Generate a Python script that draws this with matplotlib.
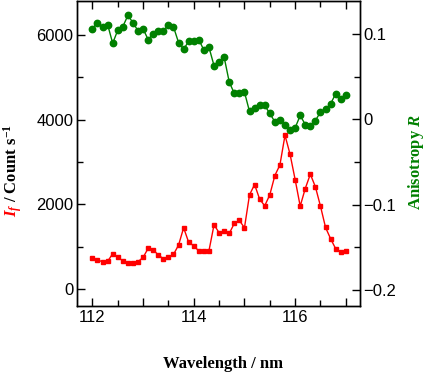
import matplotlib
matplotlib.use("Agg")
import matplotlib.pyplot as plt
from matplotlib.ticker import MultipleLocator, FuncFormatter

# wavelength grid (nm) and the two measured series
wavelength = [112.0, 112.1, 112.2, 112.3, 112.4, 112.5, 112.6, 112.7, 112.8, 112.9,
              113.0, 113.1, 113.2, 113.3, 113.4, 113.5, 113.6, 113.7, 113.8, 113.9,
              114.0, 114.1, 114.2, 114.3, 114.4, 114.5, 114.6, 114.7, 114.8, 114.9,
              115.0, 115.1, 115.2, 115.3, 115.4, 115.5, 115.6, 115.7, 115.8, 115.9,
              116.0, 116.1, 116.2, 116.3, 116.4, 116.5, 116.6, 116.7, 116.8, 116.9,
              117.0]
intensity = [737, 690, 651, 659, 839, 753, 675, 612, 612, 651,
             753, 965, 933, 808, 722, 753, 823, 1043, 1451, 1106,
             1027, 902, 894, 910, 1522, 1333, 1365, 1318, 1553, 1624,
             1451, 2227, 2471, 2125, 1969, 2227, 2682, 2933, 3631, 3184,
             2588, 1961, 2376, 2714, 2416, 1961, 1459, 1192, 957, 871,
             902]
anisotropy = [0.1067, 0.1137, 0.1082, 0.1114, 0.0894, 0.1047, 0.1090, 0.1220, 0.1137, 0.1039,
              0.1063, 0.0937, 0.1008, 0.1035, 0.1043, 0.1106, 0.1086, 0.0902, 0.0824, 0.0918,
              0.0925, 0.0937, 0.0812, 0.0847, 0.0631, 0.0671, 0.0729, 0.0439, 0.0306, 0.0314,
              0.0322, 0.0094, 0.0137, 0.0165, 0.0165, 0.0071, -0.0027, -0.0008, -0.0059, -0.0122,
              -0.0098, 0.0047, -0.0059, -0.0075, -0.0012, 0.0086, 0.0118, 0.0184, 0.0302, 0.0235,
              0.0290]

RED = "#ff0000"
GREEN = "#008000"

plt.rcParams["font.family"] = "Liberation Sans"
plt.rcParams["mathtext.fontset"] = "custom"
plt.rcParams["mathtext.rm"] = "Liberation Serif:bold"
plt.rcParams["mathtext.bf"] = "Liberation Serif:bold"
plt.rcParams["mathtext.it"] = "Liberation Serif:bold:italic"
plt.rcParams["axes.unicode_minus"] = True

W, H = 426, 374
fig = plt.figure(figsize=(W / 100, H / 100), dpi=100)
ax = fig.add_axes([76.7 / W, 1 - 305.7 / H, (360 - 76.7) / W, 305.7 / H - 0.0015])
ax2 = ax.twinx()

ax.plot(wavelength, intensity, color=RED, lw=1.0, marker="s", ms=2.7, mec=RED, mfc=RED)
ax2.plot(wavelength, anisotropy, color=GREEN, lw=1.0, marker="o", ms=4.6, mec=GREEN, mfc=GREEN)

ax.set_xlim(111.69, 117.28)
ax.set_ylim(-386, 6807)
ax2.set_ylim(-0.2184, 0.1395)

ax.xaxis.set_major_locator(MultipleLocator(1))
ax.xaxis.set_minor_locator(MultipleLocator(0.5))
ax.xaxis.set_major_formatter(FuncFormatter(lambda v, p: f"{v:.0f}" if round(v) % 2 == 0 else ""))
ax.yaxis.set_major_locator(MultipleLocator(2000))
ax.yaxis.set_minor_locator(MultipleLocator(1000))
ax2.yaxis.set_major_locator(MultipleLocator(0.1))
ax2.yaxis.set_minor_locator(MultipleLocator(0.05))
ax2.yaxis.set_major_formatter(FuncFormatter(lambda v, p: "0" if abs(v) < 1e-9 else f"{v:.1f}".replace("-", "\u2212")))

ax.tick_params(axis="x", which="both", direction="in", top=True, labelsize=12, pad=3)
ax.tick_params(axis="y", which="both", direction="in", right=False, labelsize=12, pad=2.5)
ax2.tick_params(axis="y", which="both", direction="in", labelsize=12, pad=2.5)
for a in (ax, ax2):
    a.tick_params(which="major", length=6, width=1.0)
    a.tick_params(which="minor", length=4, width=1.0)
    for s in a.spines.values():
        s.set_linewidth(1.0)

serif = dict(family="Liberation Serif", weight="bold", fontsize=12)

# x label
fig.text(223 / W, 1 - 368 / H, "Wavelength / nm", ha="center", va="baseline", **serif)

# left label: red I_f followed by black "/ Count s^-1"
r = fig.canvas.get_renderer()
t1 = fig.text(17 / W, 1 - 217 / H, r"$I_f$", color=RED, rotation=90, rotation_mode="anchor",
              ha="left", va="baseline", **serif)
ext = t1.get_window_extent(r)
fig.text(17 / W, (ext.y1 + 2) / H, r"/ Count s$^{-1}$", color="black", rotation=90,
         rotation_mode="anchor", ha="left", va="baseline", **serif)

# right label
fig.text(420 / W, 1 - 162 / H, r"Anisotropy $R$", color=GREEN, rotation=90,
         rotation_mode="anchor", ha="center", va="baseline", **serif)

fig.savefig("out.png", dpi=100)
